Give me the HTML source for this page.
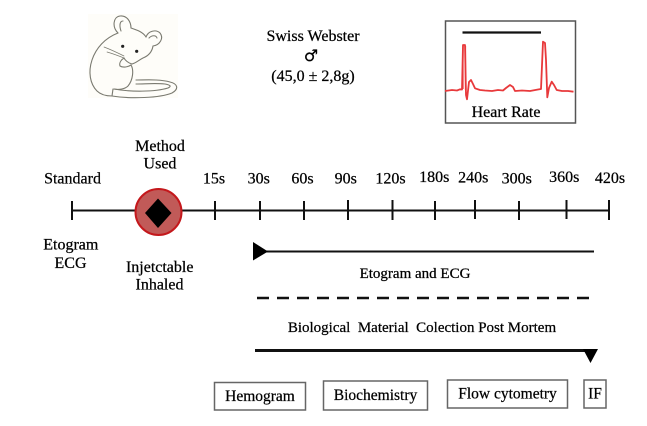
<!DOCTYPE html>
<html>
<head>
<meta charset="utf-8">
<style>
html,body{margin:0;padding:0;background:#fff;}
svg{display:block;}
text{font-family:"Liberation Serif","DejaVu Serif",serif;fill:#000;stroke:#000;stroke-width:0.25;}
</style>
</head>
<body>
<svg width="647" height="426" viewBox="0 0 647 426" xmlns="http://www.w3.org/2000/svg">
  <!-- Mouse illustration -->
  <rect x="88" y="14" width="90" height="84" fill="#fefdf9"/>
  <g fill="none" stroke="#7a7a70" stroke-width="1.1" stroke-linecap="round" stroke-linejoin="round">
    <path d="M118,33 C112,27 113,17 120,16 C127,15 131,22 131,28"/>
    <path d="M121,31 C119,25 120,21 123,21"/>
    <path d="M146,37 C148,31 156,29 160,33 C164,38 160,45 153,46"/>
    <path d="M149,38 C152,35 156,35 157,38"/>
    <path d="M131,28 C137,30 143,32 146,37"/>
    <path d="M153,46 C152,52 148,56 143,58 C139,60 136,63 132,64"/>
    <path d="M132,64 C128,63 125,60 124,58"/>
    <path d="M118,33 C105,38 96,48 92,60 C88,72 90,84 97,91 C101,95 106,96 112,96"/>
    <path d="M124,58 C121,60 119,63 120,66 C123,68 128,67 131,65"/>
    <path d="M131,65 C134,70 133,80 128,86 C125,89 119,90 114,89"/>
    <path d="M104,47 C112,50 118,53 124,56" stroke-width="0.7"/>
    <path d="M107,52 C114,54 119,56 124,58" stroke-width="0.7"/>
    <path d="M112,96 C130,99 160,98 172,93 C179,89 178,84 170,82 C160,79 145,80 136,80"/>
    <path d="M114,89 C130,92 155,92 168,88 C172,86 170,85 165,84 C155,83 145,84 136,84"/>
    <path d="M112,96 L113,89"/>
  </g>
  <circle cx="122.7" cy="46.3" r="1.6" fill="#222"/>
  <circle cx="136.7" cy="51.3" r="1.6" fill="#222"/>

  <!-- Swiss Webster -->
  <text x="313" y="41" font-size="16" text-anchor="middle">Swiss Webster</text>
  <text x="311" y="61" font-size="16" text-anchor="middle" style="font-family:'DejaVu Sans',sans-serif">♂</text>
  <text x="313" y="81" font-size="16" text-anchor="middle">(45,0 ± 2,8g)</text>

  <!-- Heart rate box -->
  <rect x="445.5" y="21" width="130" height="102" fill="#fff" stroke="#555" stroke-width="1.5"/>
  <line x1="462.5" y1="32.5" x2="541" y2="32.5" stroke="#111" stroke-width="2.2"/>
  <path d="M445,91 L452,90 L457,90.5 L460,89.3 L462,89.5 L463,45 L465,45 L466,95 L467,99.3 L469,82 L471,80 L473,84 L475,88.3 L480,90 L485,90.5 L492,91 L498,90 L503,90.5 L506,88 L510,85 L513,87 L515,91 L522,90.5 L530,91 L538,89.5 L541,89 L543,41.7 L545,43 L546,60 L547.3,97.3 L549,88 L551.7,81.7 L554,85 L556.7,90 L562,91 L568,91 L573.5,91.7"
        fill="none" stroke="#e8393b" stroke-width="1.8" stroke-linejoin="round"/>
  <path d="M463,89 L463,46 M465.5,46 L465.5,90" fill="none" stroke="#e8393b" stroke-width="1.2"/>
  <text x="506" y="117" font-size="16" text-anchor="middle">Heart Rate</text>

  <!-- Timeline labels -->
  <text x="160" y="151" font-size="16" text-anchor="middle">Method</text>
  <text x="160" y="168.5" font-size="16" text-anchor="middle">Used</text>
  <text x="72.5" y="183.5" font-size="16" text-anchor="middle">Standard</text>
  <text x="214" y="183.5" font-size="16" text-anchor="middle">15s</text>
  <text x="258.7" y="183.5" font-size="16" text-anchor="middle">30s</text>
  <text x="302.5" y="183.5" font-size="16" text-anchor="middle">60s</text>
  <text x="345.7" y="183.5" font-size="16" text-anchor="middle">90s</text>
  <text x="390.5" y="183.5" font-size="16" text-anchor="middle">120s</text>
  <text x="434.3" y="182" font-size="16" text-anchor="middle">180s</text>
  <text x="473.3" y="182.5" font-size="16" text-anchor="middle">240s</text>
  <text x="516.8" y="183.5" font-size="16" text-anchor="middle">300s</text>
  <text x="564.3" y="182" font-size="16" text-anchor="middle">360s</text>
  <text x="610" y="183" font-size="16" text-anchor="middle">420s</text>

  <!-- Axis -->
  <line x1="72" y1="210.5" x2="609" y2="210.5" stroke="#111" stroke-width="2"/>
  <g stroke="#111" stroke-width="2">
    <line x1="72" y1="201" x2="72" y2="220"/>
    <line x1="215" y1="201" x2="215" y2="220"/>
    <line x1="260" y1="201" x2="260" y2="220"/>
    <line x1="304" y1="201" x2="304" y2="220"/>
    <line x1="348" y1="200" x2="348" y2="220"/>
    <line x1="392.5" y1="200" x2="392.5" y2="220"/>
    <line x1="435" y1="201" x2="435" y2="220"/>
    <line x1="475" y1="200" x2="475" y2="219"/>
    <line x1="519" y1="201" x2="519" y2="220"/>
    <line x1="566.5" y1="200" x2="566.5" y2="219"/>
    <line x1="609" y1="200" x2="609" y2="220"/>
  </g>

  <!-- Method circle -->
  <circle cx="158.5" cy="212" r="23" fill="#c15a58" stroke="#c4181c" stroke-width="2"/>
  <polygon points="158,198.5 171.5,213 158,228 145,213" fill="#000"/>

  <text x="70.8" y="249.5" font-size="16" text-anchor="middle">Etogram</text>
  <text x="70.5" y="268" font-size="16" text-anchor="middle">ECG</text>
  <text x="159.7" y="272" font-size="16" text-anchor="middle">Injetctable</text>
  <text x="159.5" y="289.5" font-size="16" text-anchor="middle">Inhaled</text>

  <!-- Etogram and ECG arrow -->
  <line x1="262" y1="251.5" x2="594" y2="251.5" stroke="#111" stroke-width="2"/>
  <polygon points="253,242 253,260.5 268,251.5" fill="#000"/>
  <text x="415" y="278" font-size="15" text-anchor="middle">Etogram and ECG</text>

  <!-- dashed -->
  <line x1="257" y1="298" x2="593" y2="298" stroke="#111" stroke-width="2.5" stroke-dasharray="12 8"/>
  <text x="422" y="332" font-size="15" text-anchor="middle" style="white-space:pre" xml:space="preserve">Biological  Material  Colection Post Mortem</text>

  <!-- bottom line with down triangle -->
  <line x1="255" y1="350.5" x2="592" y2="350.5" stroke="#111" stroke-width="3"/>
  <polygon points="583,349 598,349 590.5,363" fill="#000"/>

  <!-- Boxes -->
  <g fill="#fff" stroke="#666" stroke-width="1.5">
    <rect x="214.5" y="382.5" width="91" height="27.5"/>
    <rect x="323.5" y="381" width="104" height="29"/>
    <rect x="447.5" y="380" width="120" height="28"/>
    <rect x="584" y="380" width="22" height="28"/>
  </g>
  <text x="260" y="401" font-size="15.5" text-anchor="middle">Hemogram</text>
  <text x="375.5" y="400" font-size="15.5" text-anchor="middle">Biochemistry</text>
  <text x="507.5" y="398.5" font-size="15.5" text-anchor="middle">Flow cytometry</text>
  <text x="595" y="398.5" font-size="15.5" text-anchor="middle">IF</text>
</svg>
</body>
</html>
